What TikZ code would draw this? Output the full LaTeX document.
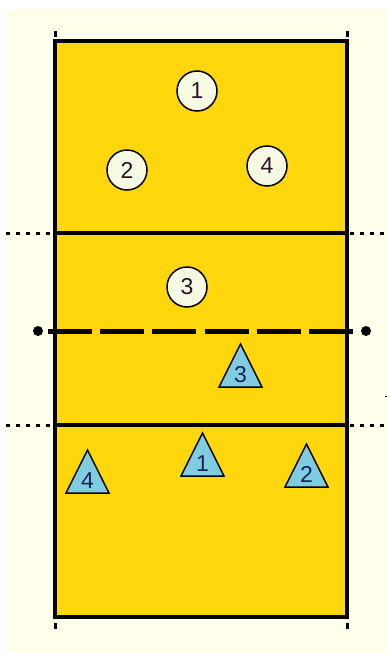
\documentclass[tikz,border=0pt]{standalone}
\usepackage{fontspec}
\setmainfont{Liberation Sans}
\definecolor{bgcream}{RGB}{255,255,236}
\definecolor{courtfill}{RGB}{255,215,12}
\definecolor{trifill}{RGB}{128,204,224}
\definecolor{circfill}{RGB}{246,250,226}
\definecolor{circtext}{RGB}{40,20,40}
\definecolor{tritext}{RGB}{25,35,85}
\newcommand\trianglePlayer[4]{%
  \draw[trishape] (#2-21.5,#3) -- (#2,#3-43) -- (#2+21.5,#3) -- cycle;
  \node[trilabel] (#1) at (#2,#3-12.5) {#4};}
\begin{document}
\begin{tikzpicture}[x=1pt,y=-1pt,
  courtline/.style={line width=3.5pt,draw=black},
  player/.style={circle,draw=black,line width=1.5pt,fill=circfill,minimum size=40pt,inner sep=0pt,font=\fontsize{23}{23}\selectfont,text=circtext},
  trishape/.style={draw=black,line width=1.5pt,fill=trifill,line join=miter},
  trilabel/.style={inner sep=0pt,font=\fontsize{23}{23}\selectfont,text=tritext},
  dotline/.style={line width=3pt,dash pattern=on 4pt off 6pt},
  netline/.style={line width=5pt,dash pattern=on 44pt off 8.2pt},
  post/.style={circle,fill=black,minimum size=10pt,inner sep=0pt},
  tickmark/.style={line width=3pt}
]
\useasboundingbox (0,0) rectangle (387,653);
\fill[white] (0,0) rectangle (387,653);
\fill[bgcream] (6,9) rectangle (387,653);
% court
\fill[courtfill] (55,41) rectangle (347,617);
\draw[courtline] (55,41) rectangle (347,617);
\draw[courtline] (55,233) -- (347,233);
\draw[courtline] (55,425) -- (347,425);
% dotted extensions
\draw[dotline] (6,233) -- (52,233);
\draw[dotline] (350,233) -- (387,233);
\draw[dotline] (6,425) -- (52,425);
\draw[dotline] (350,425) -- (387,425);
% ticks
\draw[tickmark] (55,31) -- (55,37);
\draw[tickmark] (347,31) -- (347,37);
\draw[tickmark] (55,623) -- (55,629);
\draw[tickmark] (347,623) -- (347,629);
% net
\node[post] (postL) at (38,331) {};
\node[post] (postR) at (366,331) {};
\coordinate (netL) at (48,331);
\coordinate (netR) at (353,331);
\draw[netline] (netL) -- (netR);
% small mark
\draw[line width=1pt] (385,396.5) -- (387,396.5);
% circle players
\node[player] (c1) at (197,91) {1};
\node[player] (c2) at (127,170) {2};
\node[player] (c4) at (267,166) {4};
\node[player] (c3) at (187,287) {3};
% triangle players
\trianglePlayer{t3}{240.5}{387}{3}
\trianglePlayer{t1}{202.5}{476}{1}
\trianglePlayer{t2}{306.5}{487}{2}
\trianglePlayer{t4}{87.5}{493}{4}
\end{tikzpicture}
\end{document}
